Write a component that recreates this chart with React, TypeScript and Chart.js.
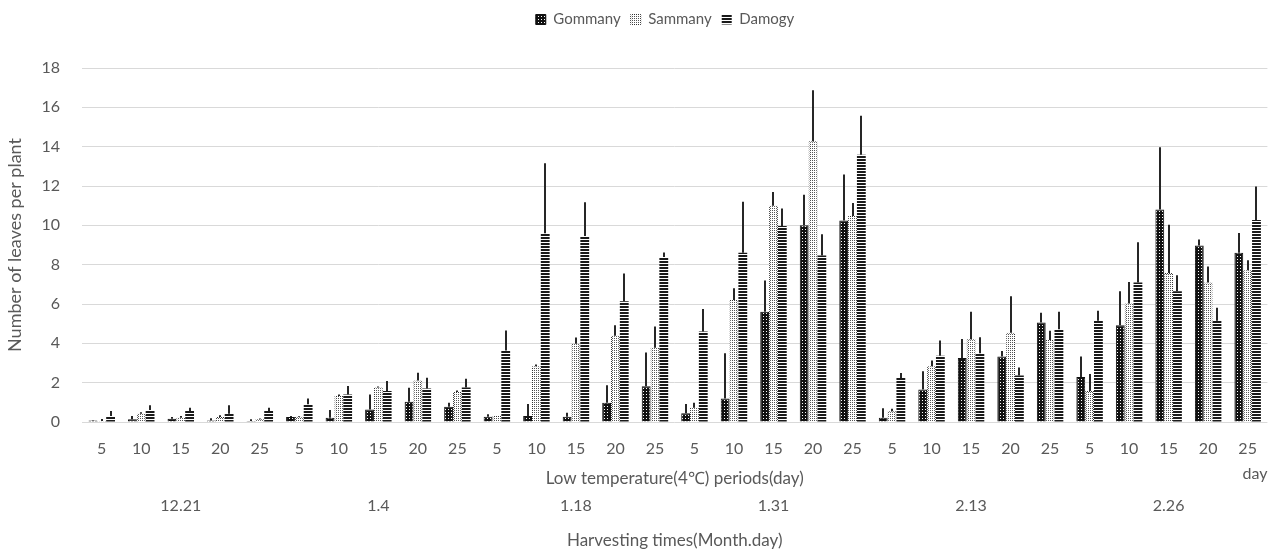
import React, { useEffect, useRef } from 'react';
import { Chart, registerables } from 'chart.js';

Chart.register(...registerables);

const periodLabels = [
  '5', '10', '15', '20', '25',
  '5', '10', '15', '20', '25',
  '5', '10', '15', '20', '25',
  '5', '10', '15', '20', '25',
  '5', '10', '15', '20', '25',
  '5', '10', '15', '20', '25',
];
const harvestLabels = ['12.21', '1.4', '1.18', '1.31', '2.13', '2.26'];
const seriesNames = ['Gommany', 'Sammany', 'Damogy'];

const gommany = [0.07, 0.14, 0.17, 0.08, 0.05, 0.25, 0.22, 0.64, 1.03, 0.78, 0.27, 0.3, 0.27, 0.98, 1.82, 0.44, 1.2, 5.6, 10.0, 10.25, 0.22, 1.65, 3.25, 3.33, 5.06, 2.29, 4.92, 10.8, 8.97, 8.6];
const gommanyErr = [0.03, 0.16, 0.08, 0.11, 0.09, 0.05, 0.39, 0.76, 0.71, 0.2, 0.12, 0.61, 0.2, 0.89, 1.72, 0.47, 2.3, 1.6, 1.55, 2.33, 0.48, 0.93, 0.97, 0.28, 0.49, 1.04, 1.73, 3.17, 0.31, 1.01];
const sammany = [0.05, 0.42, 0.22, 0.25, 0.14, 0.27, 1.32, 1.75, 2.11, 1.52, 0.3, 2.83, 3.98, 4.38, 3.78, 0.73, 6.2, 11.0, 14.28, 10.47, 0.55, 2.83, 4.21, 4.54, 4.17, 1.57, 6.03, 7.58, 7.09, 7.71];
const sammanyErr = [0.1, 0.08, 0.08, 0.09, 0.04, 0.03, 0.08, 0.05, 0.39, 0.08, 0.0, 0.09, 0.32, 0.54, 1.08, 0.25, 0.6, 0.7, 2.59, 0.67, 0.12, 0.3, 1.39, 1.85, 0.47, 0.87, 1.09, 2.45, 0.82, 0.51];
const damogy = [0.3, 0.61, 0.56, 0.42, 0.56, 0.9, 1.4, 1.58, 1.7, 1.75, 3.63, 9.6, 9.46, 6.14, 8.39, 4.6, 8.6, 9.97, 8.47, 13.59, 2.24, 3.37, 3.5, 2.37, 4.71, 5.15, 7.09, 6.65, 5.15, 10.27];
const damogyErr = [0.26, 0.24, 0.17, 0.43, 0.17, 0.29, 0.43, 0.5, 0.55, 0.45, 1.02, 3.56, 1.72, 1.41, 0.23, 1.15, 2.6, 0.89, 1.08, 1.98, 0.25, 0.77, 0.81, 0.4, 0.89, 0.51, 2.05, 0.81, 0.66, 1.7];

const yTicks = [0, 2, 4, 6, 8, 10, 12, 14, 16, 18];

const FONT = 'Lato';
const TEXT = '#595959';

function makePattern(w: number, h: number, draw: (ctx: CanvasRenderingContext2D) => void) {
  const c = document.createElement('canvas');
  c.width = w;
  c.height = h;
  const ctx = c.getContext('2d')!;
  draw(ctx);
  const probe = document.createElement('canvas').getContext('2d')!;
  return probe.createPattern(c, 'repeat')!;
}

export default function App() {
  const ref = useRef<HTMLCanvasElement | null>(null);

  useEffect(() => {
    if (!ref.current) return;

    const gomPat = makePattern(3, 3, (ctx) => {
      ctx.fillStyle = '#111';
      ctx.fillRect(0, 0, 3, 3);
      ctx.fillStyle = '#fff';
      ctx.fillRect(1, 1, 1, 1);
    });
    const samPat = makePattern(2, 2, (ctx) => {
      ctx.fillStyle = '#fff';
      ctx.fillRect(0, 0, 2, 2);
      ctx.fillStyle = '#555';
      ctx.fillRect(0, 0, 1, 1);
    });
    const samBorder = makePattern(2, 2, (ctx) => {
      ctx.fillStyle = '#fff';
      ctx.fillRect(0, 0, 2, 2);
      ctx.fillStyle = '#333';
      ctx.fillRect(0, 0, 1, 1);
      ctx.fillRect(1, 1, 1, 1);
    });
    const damPat = makePattern(3, 3, (ctx) => {
      ctx.fillStyle = '#fff';
      ctx.fillRect(0, 0, 3, 3);
      ctx.fillStyle = '#1a1a1a';
      ctx.fillRect(0, 0, 3, 2);
    });

    const errs = [gommanyErr, sammanyErr, damogyErr];

    const errorBars = {
      id: 'errorBars',
      afterDatasetsDraw(chart: any) {
        const ctx = chart.ctx;
        const y = chart.scales.y;
        ctx.save();
        ctx.strokeStyle = '#262626';
        ctx.lineWidth = 2;
        chart.data.datasets.forEach((ds: any, i: number) => {
          const meta = chart.getDatasetMeta(i);
          meta.data.forEach((bar: any, j: number) => {
            const e = errs[i][j];
            if (!e) return;
            const top = y.getPixelForValue(ds.data[j] + e);
            ctx.beginPath();
            ctx.moveTo(Math.round(bar.x), bar.y);
            ctx.lineTo(Math.round(bar.x), top);
            ctx.stroke();
          });
        });
        ctx.restore();
      },
    };

    const legendSpacer = {
      id: 'legendSpacer',
      beforeInit(chart: any) {
        const legend = chart.legend;
        if (!legend) return;
        const orig = legend.fit;
        legend.fit = function () {
          orig.call(this);
          this.height = 66;
        };
      },
      afterLayout(chart: any) {
        if (chart.legend) {
          chart.legend.left += 30;
          chart.legend.right += 30;
        }
      },
    };

    const dayLabel = {
      id: 'dayLabel',
      afterDraw(chart: any) {
        const ctx = chart.ctx;
        const x = chart.scales.x;
        ctx.save();
        ctx.font = `16px ${FONT}`;
        ctx.fillStyle = TEXT;
        ctx.textAlign = 'right';
        ctx.textBaseline = 'middle';
        ctx.fillText('day', x.right, x.top + 52);
        ctx.restore();
      },
    };

    const chart = new Chart(ref.current, {
      type: 'bar',
      data: {
        labels: periodLabels,
        datasets: [
          {
            label: seriesNames[0],
            data: gommany,
            backgroundColor: gomPat,
            borderColor: '#111',
            borderWidth: 1,
          },
          {
            label: seriesNames[1],
            data: sammany,
            backgroundColor: samPat,
            borderColor: samBorder,
            borderWidth: 1,
          },
          {
            label: seriesNames[2],
            data: damogy,
            backgroundColor: damPat,
            borderWidth: 0,
          },
        ] as any,
      },
      options: {
        responsive: false,
        animation: false,
        devicePixelRatio: 1,
        layout: { padding: { left: 0, right: 4, top: 2, bottom: 0 } },
        datasets: {
          bar: { categoryPercentage: 0.67, barPercentage: 1.0 },
        },
        plugins: {
          legend: {
            position: 'top',
            align: 'center',
            labels: {
              boxWidth: 10,
              boxHeight: 10,
              padding: 10,
              color: TEXT,
              font: { family: FONT, size: 15 },
            },
          },
          tooltip: { enabled: false },
        },
        scales: {
          x: {
            type: 'category',
            position: 'bottom',
            weight: 0,
            grid: { display: false, drawTicks: false },
            border: { display: false },
            ticks: {
              color: TEXT,
              font: { family: FONT, size: 16 },
              padding: 17,
              maxRotation: 0,
              autoSkip: false,
            },
            title: {
              display: true,
              text: 'Low temperature(4℃) periods(day)',
              color: TEXT,
              font: { family: FONT, size: 17 },
              padding: { top: 2, bottom: 4.8 },
            },
            afterFit(s: any) {
              s.height = 72;
            },
          },
          x2: {
            type: 'category',
            position: 'bottom',
            weight: 1,
            labels: harvestLabels,
            offset: true,
            grid: { display: false, drawTicks: false },
            border: { display: false },
            ticks: {
              color: TEXT,
              font: { family: FONT, size: 16 },
              padding: 2.4,
              maxRotation: 0,
              autoSkip: false,
            },
            title: {
              display: true,
              text: 'Harvesting times(Month.day)',
              color: TEXT,
              font: { family: FONT, size: 17 },
              padding: { top: 2, bottom: 5.8 },
            },
            afterFit(s: any) {
              s.height = 63;
            },
          },
          y: {
            min: 0,
            max: 18,
            afterBuildTicks(s: any) {
              s.ticks = yTicks.map((v) => ({ value: v }));
            },
            grid: { color: '#d9d9d9', lineWidth: 1, drawTicks: false },
            border: { display: false },
            ticks: {
              color: TEXT,
              font: { family: FONT, size: 16 },
              padding: 22,
            },
            title: {
              display: true,
              text: 'Number of leaves per plant',
              color: TEXT,
              font: { family: FONT, size: 18 },
              padding: { top: 4, bottom: 0 },
            },
            afterFit(s: any) {
              s.width = 82;
            },
          },
        },
      } as any,
      plugins: [errorBars, legendSpacer, dayLabel],
    });

    return () => chart.destroy();
  }, []);

  return (
    <div style={{ position: 'fixed', left: 0, top: 0, width: 1274, height: 557, background: '#fff' }}>
      <canvas ref={ref} width={1274} height={557} />
    </div>
  );
}
